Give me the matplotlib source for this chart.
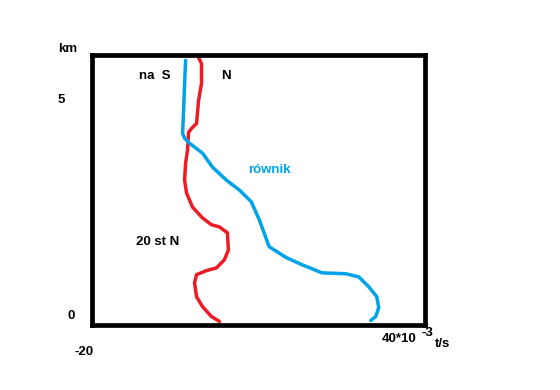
import matplotlib
matplotlib.use("Agg")
import matplotlib.pyplot as plt

# ── Data (hand-drawn profiles) ────────────────────────────────────────────────

# blue: "równik"
eq_x = [-3.16, -3.34, -3.52, -3.70, -3.34, -2.45, -0.12, 1.67, 4.18, 6.51, 8.66,
        10.09, 11.88, 14.93, 17.79, 21.38, 25.67, 28.00, 29.79, 31.23, 31.59,
        31.05, 30.15]
eq_y = [5.89, 5.38, 4.78, 4.27, 4.16, 4.05, 3.83, 3.52, 3.23, 3.01, 2.75,
        2.35, 1.75, 1.51, 1.35, 1.17, 1.15, 1.08, 0.86, 0.64, 0.40,
        0.20, 0.11]

# red: "20 st N"
n20_x = [-0.83, -0.30, -0.30, -0.83, -1.19, -2.09, -2.63, -2.81, -3.16, -3.34,
         -2.98, -1.91, -0.12, 1.49, 2.93, 4.36, 4.54, 3.82, 2.39, 0.60,
         -1.19, -1.55, -1.19, -0.12, 1.49, 2.93]
n20_y = [5.96, 5.82, 5.38, 5.00, 4.49, 4.38, 4.29, 3.90, 3.61, 3.23,
         2.94, 2.63, 2.39, 2.24, 2.19, 2.06, 1.68, 1.46, 1.28, 1.22,
         1.13, 0.95, 0.64, 0.42, 0.20, 0.09]

X_MIN, X_MAX = -20, 40
Y_MIN, Y_MAX = 0, 6

BLUE = "#00a2e8"
RED = "#ed1c24"

plt.rcParams["font.family"] = ["Liberation Sans", "DejaVu Sans"]

fig = plt.figure(figsize=(5.6, 3.9), dpi=100)
ax = fig.add_axes([0.1643, 0.1654, 0.5955, 0.6923])

ax.plot(n20_x, n20_y, color=RED, lw=2.5, solid_capstyle="round", solid_joinstyle="round")
ax.plot(eq_x, eq_y, color=BLUE, lw=2.5, solid_capstyle="round", solid_joinstyle="round")

ax.set_xlim(X_MIN, X_MAX)
ax.set_ylim(Y_MIN, Y_MAX)
ax.set_xticks([])
ax.set_yticks([])
for s in ax.spines.values():
    s.set_linewidth(3.4)
    s.set_color("black")
    s.set_capstyle("projecting")

# labels inside the box
kw = dict(fontsize=9.5, fontweight="bold", ha="center", va="center")
fig.text(0.277, 0.805, "na  S", **kw)
fig.text(0.404, 0.805, "N", **kw)
fig.text(0.482, 0.564, "równik", color=BLUE, **kw)
fig.text(0.282, 0.379, "20 st N", **kw)

# axis annotations
fig.text(0.121, 0.874, "km", **kw)
fig.text(0.109, 0.744, "5", **kw)
fig.text(0.127, 0.190, "0", **kw)
fig.text(0.150, 0.097, "-20", **kw)
fig.text(0.7125, 0.131, "40*10", **kw)
fig.text(0.7625, 0.146, "-3", **kw)
fig.text(0.791, 0.119, "t/s", **kw)

fig.savefig("out.png", dpi=100)
